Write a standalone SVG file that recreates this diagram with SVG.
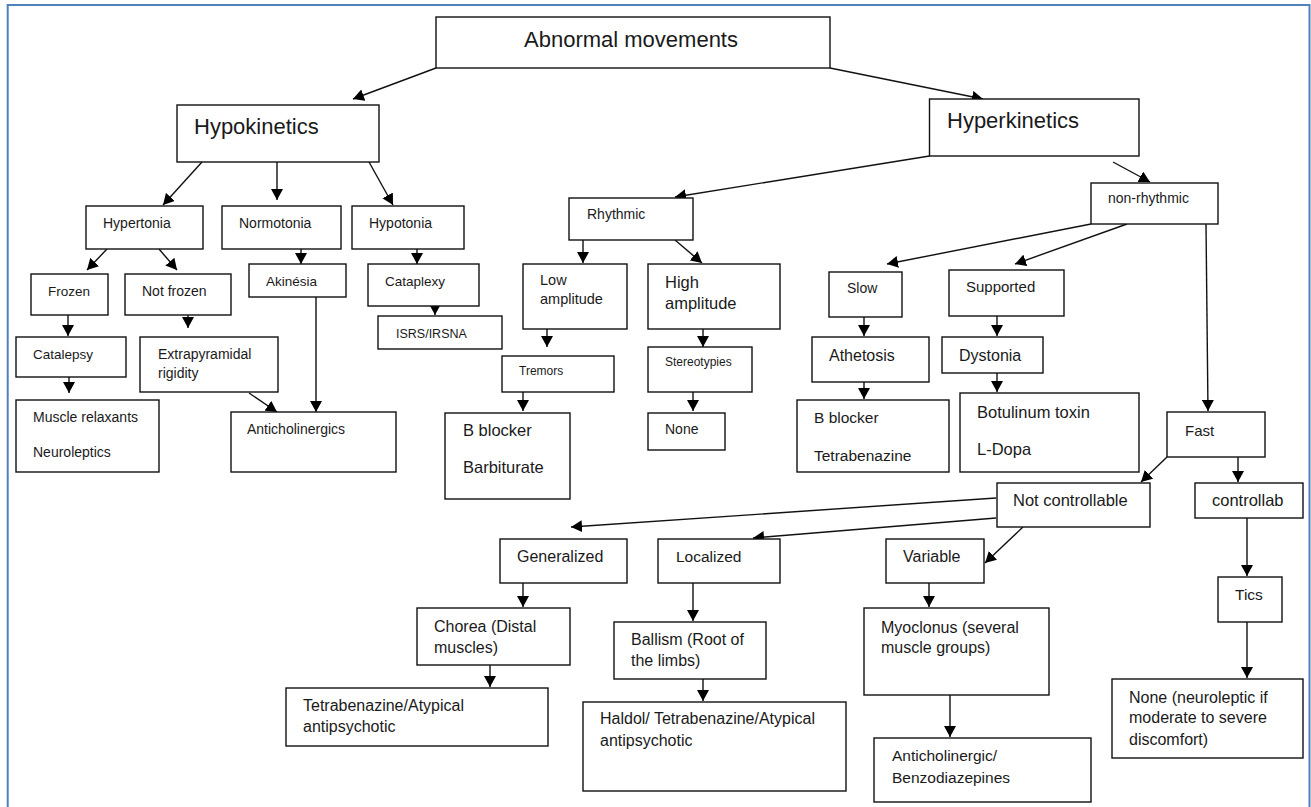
<svg xmlns="http://www.w3.org/2000/svg" width="1311" height="807" viewBox="0 0 1311 807">
<style>
.box{fill:#fff;stroke:#111;stroke-width:1.4}
.t{font-family:"Liberation Sans",Arial,sans-serif;fill:#1a1a1a}
.c line{stroke:#111;stroke-width:1.4;marker-end:url(#ah)}
</style>
<defs>
<marker id="ah" markerUnits="userSpaceOnUse" markerWidth="12" markerHeight="12" refX="11" refY="6" orient="auto"><path d="M0,0 L11,6 L0,12 z" fill="#000"/></marker>
</defs>
<rect width="1311" height="807" fill="#fff"/>
<rect x="7.7" y="5" width="1301.8" height="900" fill="none" stroke="#4f81bd" stroke-width="2"/>

<g class="c" id="connectors">
<line x1="436" y1="68" x2="353" y2="99"/>
<line x1="830" y1="68" x2="983" y2="99"/>
<line x1="202" y1="162" x2="163" y2="205"/>
<line x1="277" y1="162" x2="277" y2="200"/>
<line x1="369" y1="162" x2="393" y2="205"/>
<line x1="107" y1="249" x2="87" y2="270"/>
<line x1="159" y1="249" x2="177" y2="270"/>
<line x1="301" y1="249" x2="301" y2="264"/>
<line x1="417" y1="249" x2="417" y2="264"/>
<line x1="435" y1="304" x2="435" y2="315"/>
<line x1="68" y1="315" x2="68" y2="336"/>
<line x1="188" y1="315" x2="188" y2="328"/>
<line x1="69" y1="377" x2="69" y2="393"/>
<line x1="249" y1="393" x2="277" y2="412"/>
<line x1="316" y1="297" x2="316" y2="412"/>
<line x1="929.5" y1="156" x2="675" y2="197"/>
<line x1="1113" y1="162" x2="1150" y2="182"/>
<line x1="583" y1="240" x2="583" y2="263"/>
<line x1="675" y1="240" x2="702" y2="263"/>
<line x1="547" y1="329" x2="547" y2="347"/>
<line x1="703" y1="329" x2="703" y2="347"/>
<line x1="523" y1="392" x2="523" y2="411"/>
<line x1="693" y1="392" x2="693" y2="411"/>
<line x1="1091" y1="224" x2="887" y2="264"/>
<line x1="1127" y1="224" x2="1015" y2="264"/>
<line x1="1206" y1="224" x2="1208" y2="411"/>
<line x1="864" y1="317" x2="864" y2="336"/>
<line x1="864" y1="382" x2="864" y2="399"/>
<line x1="997" y1="316" x2="997" y2="336"/>
<line x1="997" y1="373" x2="997" y2="392"/>
<line x1="1167" y1="457" x2="1141" y2="482"/>
<line x1="1238" y1="457" x2="1238" y2="482"/>
<line x1="996" y1="498" x2="571" y2="527"/>
<line x1="996" y1="518" x2="753" y2="538"/>
<line x1="1023" y1="527" x2="985" y2="563"/>
<line x1="929" y1="583" x2="929" y2="607"/>
<line x1="950" y1="695" x2="950" y2="737"/>
<line x1="1247" y1="518" x2="1247" y2="576"/>
<line x1="1247" y1="622" x2="1247" y2="678"/>
<line x1="523" y1="583" x2="523" y2="607"/>
<line x1="693" y1="583" x2="693" y2="621"/>
<line x1="490" y1="665" x2="490" y2="687"/>
<line x1="703" y1="679" x2="703" y2="701"/>
</g>

<g id="abnormal"><rect class="box" x="436" y="17" width="394" height="51"/><text class="t" x="524" y="47" font-size="22">Abnormal movements</text></g>
<g id="hypokinetics"><rect class="box" x="177" y="105" width="202" height="57"/><text class="t" x="194" y="134" font-size="22">Hypokinetics</text></g>
<g id="hyperkinetics"><rect class="box" x="929.5" y="99" width="209.5" height="57"/><text class="t" x="947" y="128" font-size="22">Hyperkinetics</text></g>
<g id="hypertonia"><rect class="box" x="86" y="206" width="117" height="43"/><text class="t" x="103" y="228" font-size="14">Hypertonia</text></g>
<g id="normotonia"><rect class="box" x="222" y="206" width="119" height="43"/><text class="t" x="239" y="228" font-size="14">Normotonia</text></g>
<g id="hypotonia"><rect class="box" x="352" y="206" width="112" height="43"/><text class="t" x="369" y="228" font-size="14">Hypotonia</text></g>
<g id="frozen"><rect class="box" x="31" y="274" width="77" height="41"/><text class="t" x="48" y="296" font-size="13.5">Frozen</text></g>
<g id="notfrozen"><rect class="box" x="125" y="274" width="106" height="41"/><text class="t" x="142" y="296" font-size="14">Not frozen</text></g>
<g id="akinesia"><rect class="box" x="249" y="264" width="97" height="33"/><text class="t" x="266" y="286" font-size="13.5">Akinésia</text></g>
<g id="cataplexy"><rect class="box" x="368" y="264" width="111" height="42"/><text class="t" x="385" y="286" font-size="13.5">Cataplexy</text></g>
<g id="isrs"><rect class="box" x="378" y="316" width="124" height="33"/><text class="t" x="396" y="338" font-size="12.5">ISRS/IRSNA</text></g>
<g id="catalepsy"><rect class="box" x="16" y="337" width="110" height="40"/><text class="t" x="33" y="359" font-size="13.5">Catalepsy</text></g>
<g id="extrapyramidal"><rect class="box" x="140" y="337" width="138" height="55"/><text class="t" x="158" y="359" font-size="14">Extrapyramidal</text><text class="t" x="158" y="378" font-size="14">rigidity</text></g>
<g id="musclerelax"><rect class="box" x="16" y="400" width="143" height="72"/><text class="t" x="33" y="422" font-size="14">Muscle relaxants</text><text class="t" x="33" y="457" font-size="14">Neuroleptics</text></g>
<g id="anticholinergics"><rect class="box" x="231" y="412" width="165" height="60"/><text class="t" x="247" y="434" font-size="14">Anticholinergics</text></g>
<g id="rhythmic"><rect class="box" x="569" y="198" width="124" height="42"/><text class="t" x="587" y="219" font-size="14">Rhythmic</text></g>
<g id="lowamp"><rect class="box" x="523" y="264" width="104" height="65"/><text class="t" x="540" y="285" font-size="14.5">Low</text><text class="t" x="540" y="304" font-size="14.5">amplitude</text></g>
<g id="highamp"><rect class="box" x="648" y="264" width="132" height="65"/><text class="t" x="665" y="288" font-size="16.5">High</text><text class="t" x="665" y="309" font-size="16.5">amplitude</text></g>
<g id="tremors"><rect class="box" x="502" y="356" width="112" height="36"/><text class="t" x="519" y="375" font-size="12">Tremors</text></g>
<g id="stereotypies"><rect class="box" x="648" y="347" width="104" height="45"/><text class="t" x="665" y="366" font-size="12">Stereotypies</text></g>
<g id="bblocker1"><rect class="box" x="445" y="413" width="125" height="86"/><text class="t" x="463" y="436" font-size="16.5">B blocker</text><text class="t" x="463" y="473" font-size="16.5">Barbiturate</text></g>
<g id="none1"><rect class="box" x="648" y="413" width="77" height="37"/><text class="t" x="665" y="434" font-size="14">None</text></g>
<g id="nonrhythmic"><rect class="box" x="1091" y="183" width="127" height="41"/><text class="t" x="1108" y="203" font-size="14">non-rhythmic</text></g>
<g id="slow"><rect class="box" x="829" y="272" width="73" height="45"/><text class="t" x="847" y="293" font-size="14">Slow</text></g>
<g id="supported"><rect class="box" x="949" y="270" width="115" height="46"/><text class="t" x="966" y="292" font-size="15">Supported</text></g>
<g id="athetosis"><rect class="box" x="812" y="337" width="117" height="45"/><text class="t" x="829" y="361" font-size="16">Athetosis</text></g>
<g id="bblocker2"><rect class="box" x="797" y="400" width="152" height="72"/><text class="t" x="814" y="423" font-size="15.5">B blocker</text><text class="t" x="814" y="461" font-size="15.5">Tetrabenazine</text></g>
<g id="dystonia"><rect class="box" x="942" y="337" width="101" height="36"/><text class="t" x="959" y="361" font-size="16">Dystonia</text></g>
<g id="botulinum"><rect class="box" x="960" y="393" width="179" height="79"/><text class="t" x="977" y="418" font-size="16.5">Botulinum toxin</text><text class="t" x="977" y="455" font-size="16.5">L-Dopa</text></g>
<g id="fast"><rect class="box" x="1167" y="412" width="98" height="45"/><text class="t" x="1185" y="436" font-size="15">Fast</text></g>
<g id="notcontrollable"><rect class="box" x="997" y="483" width="153" height="44"/><text class="t" x="1013" y="506" font-size="16.5">Not controllable</text></g>
<g id="controllab"><rect class="box" x="1195" y="483" width="108" height="35"/><text class="t" x="1212" y="506" font-size="16.5">controllab</text></g>
<g id="generalized"><rect class="box" x="500" y="539" width="127" height="44"/><text class="t" x="517" y="562" font-size="16">Generalized</text></g>
<g id="localized"><rect class="box" x="658" y="539" width="122" height="44"/><text class="t" x="676" y="562" font-size="15.5">Localized</text></g>
<g id="variable"><rect class="box" x="886" y="539" width="98" height="44"/><text class="t" x="903" y="562" font-size="16">Variable</text></g>
<g id="chorea"><rect class="box" x="417" y="608" width="153" height="57"/><text class="t" x="434" y="632" font-size="16">Chorea (Distal</text><text class="t" x="434" y="653" font-size="16">muscles)</text></g>
<g id="ballism"><rect class="box" x="614" y="622" width="152" height="57"/><text class="t" x="631" y="645" font-size="16">Ballism (Root of</text><text class="t" x="631" y="666" font-size="16">the limbs)</text></g>
<g id="myoclonus"><rect class="box" x="864" y="608" width="185" height="87"/><text class="t" x="881" y="633" font-size="16">Myoclonus (several</text><text class="t" x="881" y="653" font-size="16">muscle groups)</text></g>
<g id="tics"><rect class="box" x="1218" y="577" width="64" height="45"/><text class="t" x="1235" y="600" font-size="15.5">Tics</text></g>
<g id="tetra1"><rect class="box" x="286" y="688" width="262" height="58"/><text class="t" x="303" y="711" font-size="16">Tetrabenazine/Atypical</text><text class="t" x="303" y="732" font-size="16">antipsychotic</text></g>
<g id="haldol"><rect class="box" x="583" y="702" width="263" height="89"/><text class="t" x="600" y="724" font-size="16">Haldol/ Tetrabenazine/Atypical</text><text class="t" x="600" y="746" font-size="16">antipsychotic</text></g>
<g id="anticholinergic2"><rect class="box" x="874" y="738" width="217" height="64"/><text class="t" x="892" y="761" font-size="15.5">Anticholinergic/</text><text class="t" x="892" y="783" font-size="15.5">Benzodiazepines</text></g>
<g id="noneneuro"><rect class="box" x="1112" y="679" width="191" height="79"/><text class="t" x="1129" y="703" font-size="16">None (neuroleptic if</text><text class="t" x="1129" y="723" font-size="16">moderate to severe</text><text class="t" x="1129" y="745" font-size="16">discomfort)</text></g>
</svg>
